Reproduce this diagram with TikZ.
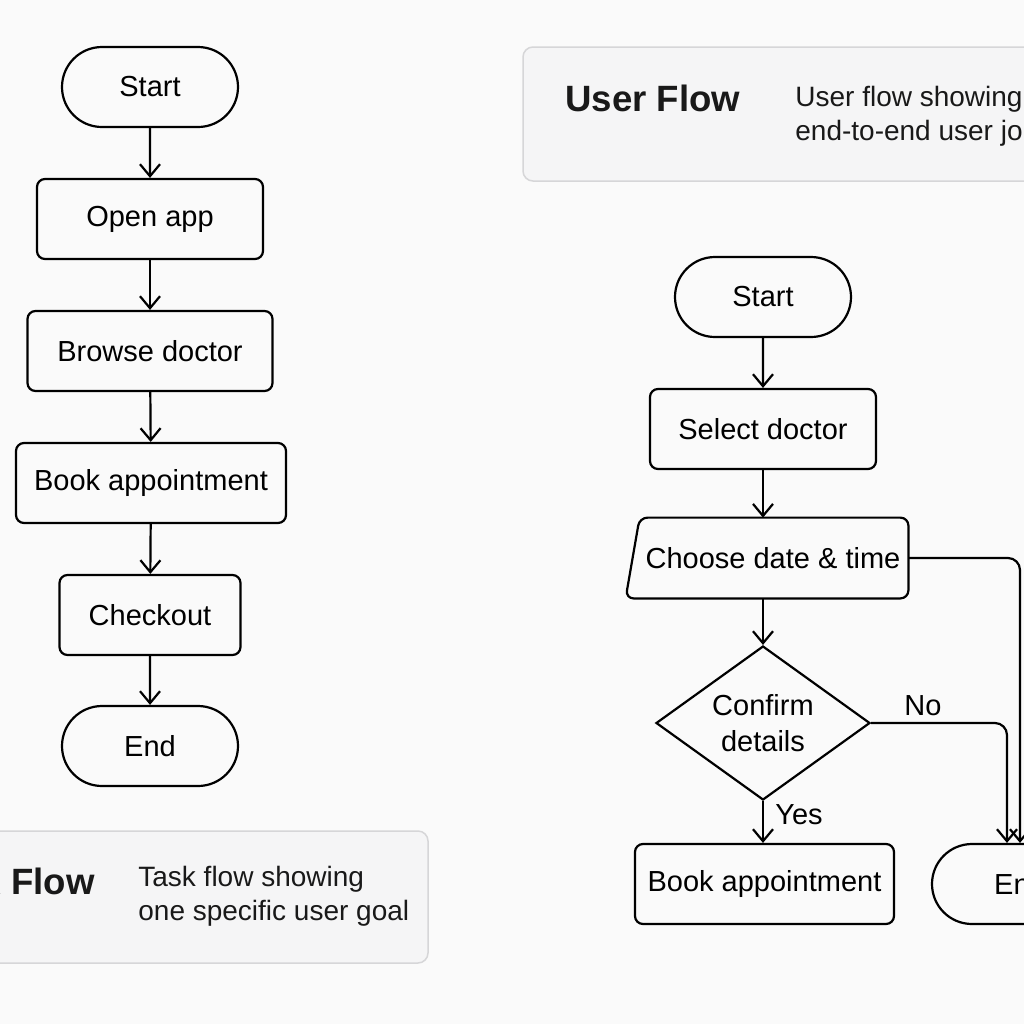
\documentclass[tikz,border=0pt]{standalone}
\usepackage{fontspec}
\setmainfont{Liberation Sans}
\usetikzlibrary{arrows.meta,calc,shapes.misc,shapes.geometric}
\definecolor{BgClr}{HTML}{FAFAFA}
\definecolor{CardClr}{HTML}{F5F5F6}
\definecolor{CardLine}{HTML}{D6D6D8}

\begin{document}
\begin{tikzpicture}[x=0.5pt,y=-0.5pt,
  txt/.style={font=\fontsize{14.5}{18}\selectfont},
  box/.style={txt,draw,line width=1.1pt,rounded corners=4pt,minimum height=40pt,inner sep=0pt},
  term/.style={txt,draw,line width=1.1pt,rounded rectangle,minimum width=88pt,minimum height=40pt,inner sep=0pt},
  flow/.style={line width=1.1pt,-{Straight Barb[length=6pt,width=10pt]}},
  card/.style={fill=CardClr,draw=CardLine,line width=0.75pt,rounded corners=5pt},
  title/.style={font=\fontsize{18.3}{22}\bfseries\selectfont,text=black!90,inner sep=0pt},
  descr/.style={font=\fontsize{14}{17}\selectfont,text=black!90,align=left,inner sep=0pt}]

\useasboundingbox (0,0) rectangle (1024,1024);
\clip (0,0) rectangle (1024,1024);
\fill[BgClr] (0,0) rectangle (1024,1024);

% cards
\draw[card] (-20,831) rectangle (428,963);
\draw[card] (523,47) rectangle (1060,181);
\node[title,anchor=east] (taskT) at (95,881) {Task Flow};
\node[descr,anchor=west] (taskD) at (138,896) {Task flow showing\\one specific user goal};
\node[title,anchor=west] (userT) at (565,98) {User Flow};
\node[descr,anchor=west] (userD) at (795,116) {User flow showing\\end-to-end user journey};

% task flow
\node[term] (startL) at (150,87) {Start};
\node[box,minimum width=113pt] (open) at (150,219) {Open app};
\node[box,minimum width=122.5pt] (browse) at (150,351) {Browse doctor};
\node[box,minimum width=135pt] (bookL) at (151,483) {Book appointment};
\node[box,minimum width=90.5pt] (checkout) at (150,615) {Checkout};
\node[term] (endL) at (150,746) {End};
\draw[flow] (startL) -- (open);
\draw[flow] (open) -- (browse);
\draw[flow] (browse) -- (bookL);
\draw[flow] (bookL) -- (checkout);
\draw[flow] (checkout) -- (endL);

% user flow
\node[term] (startR) at (763,297) {Start};
\node[box,minimum width=113pt] (select) at (763,429) {Select doctor};
\node[txt,minimum width=141pt,minimum height=40pt,inner sep=0pt] (choose) at (767,558) {\hspace*{6pt}Choose date \& time};
\draw[line width=1.1pt,rounded corners=4pt] ($(choose.north west)+(14,0)$) -- (choose.north east)
  -- (choose.south east) -- (choose.south west) -- cycle;
\node[txt,draw,line width=1.1pt,diamond,aspect=1.39,minimum width=107pt,minimum height=77pt,
  inner sep=0pt,align=center] (confirm) at (763,723) {Confirm\\details};
\node[box,minimum width=129.5pt] (bookR) at (764.5,884) {Book appointment};
\node[term] (endR) at (1020,884) {End};
\node[txt] (yes) at (799,815) {Yes};
\node[txt] (no) at (923,706) {No};

\draw[flow] (startR) -- (select);
\draw[flow] (select) -- (select |- choose.north);
\draw[flow] (select |- choose.south) -- (confirm.north);
\draw[flow] (confirm.south) -- (confirm.south |- bookR.north);
\draw[flow,rounded corners=6pt] (confirm.east) -| ($(endR.north)+(-13,0)$);
\draw[flow,rounded corners=6pt] (choose.east) -| (endR.north);

\end{tikzpicture}
\end{document}
